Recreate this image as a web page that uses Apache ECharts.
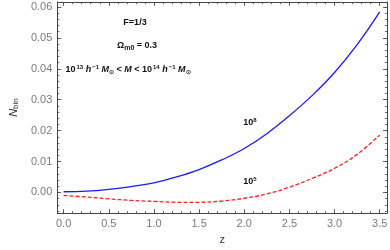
<!DOCTYPE html>
<html>
<head>
<meta charset="utf-8">
<script src="https://cdn.jsdelivr.net/npm/echarts@6/dist/echarts.min.js"></script>
<style>html,body{margin:0;padding:0;background:#fff;}#c{width:390px;height:250px;}</style>
</head>
<body>
<div id="c"></div>
<script>
const zValues = [0, 0.25, 0.5, 0.75, 1.0, 1.25, 1.5, 1.75, 2.0, 2.25, 2.5, 2.75, 3.0, 3.25, 3.5];
const blue1e8 = [0.0002, 0.0004, 0.0010, 0.0019, 0.0031, 0.0050, 0.0074, 0.0105, 0.0142, 0.0190, 0.0248, 0.0313, 0.0388, 0.0478, 0.0584];
const red1e5 = [-0.0010, -0.0015, -0.0021, -0.0026, -0.0029, -0.0032, -0.0032, -0.0028, -0.0019, -0.0005, 0.0017, 0.0045, 0.0078, 0.0123, 0.0186];
const xTicks = [0, 0.5, 1.0, 1.5, 2.0, 2.5, 3.0, 3.5];
const yTicks = [0, 0.01, 0.02, 0.03, 0.04, 0.05, 0.06];

const xMinor = []; for (let i = 0; i <= 35; i++) xMinor.push(+(i * 0.1).toFixed(2));
const yMinor = []; for (let i = -3; i <= 30; i++) yMinor.push(+(i * 0.002).toFixed(4));

const XMIN = -0.07, XMAX = 3.58, YMIN = -0.0067, YMAX = 0.0616;
const frame = '#444';
const labelColor = '#7a7a7a';
const font = 'Liberation Sans';

function xAx(pos, custom, len, showLabel, showLine) {
  return {
    type: 'value', position: pos, min: XMIN, max: XMAX,
    axisLine: { show: showLine, onZero: false, lineStyle: { color: frame, width: 1 } },
    axisTick: { show: true, inside: true, length: len, customValues: custom, lineStyle: { color: frame, width: 0.8 } },
    axisLabel: { show: showLabel, customValues: custom, color: labelColor, fontSize: 11, fontFamily: font, margin: 5,
      formatter: v => v.toFixed(1) },
    splitLine: { show: false }
  };
}
function yAx(pos, custom, len, showLabel, showLine) {
  return {
    type: 'value', position: pos, min: YMIN, max: YMAX,
    axisLine: { show: showLine, onZero: false, lineStyle: { color: frame, width: 1 } },
    axisTick: { show: true, inside: true, length: len, customValues: custom, lineStyle: { color: frame, width: 0.8 } },
    axisLabel: { show: showLabel, customValues: custom, color: labelColor, fontSize: 11, fontFamily: font, margin: 5,
      formatter: v => v.toFixed(2) },
    splitLine: { show: false }
  };
}

const xAxes = [
  Object.assign(xAx('bottom', xTicks, 4, true, true), {
    name: 'z', nameLocation: 'middle', nameGap: 20,
    nameTextStyle: { color: '#333', fontSize: 11, fontFamily: font }
  }),
  xAx('bottom', xMinor, 2, false, false),
  xAx('top', xTicks, 4, false, true),
  xAx('top', xMinor, 2, false, false)
];
const yAxes = [
  Object.assign(yAx('left', yTicks, 4, true, true), {
    name: '{n|N}{s|bin}', nameLocation: 'middle', nameGap: 30, nameRotate: 90,
    nameTextStyle: { rich: {
      n: { fontSize: 11, fontStyle: 'italic', color: '#333', fontFamily: font },
      s: { fontSize: 8, color: '#333', fontFamily: font, padding: [5, 0, 0, 0] }
    } }
  }),
  yAx('left', yMinor, 2, false, false),
  yAx('right', yTicks, 4, false, true),
  yAx('right', yMinor, 2, false, false)
];

const chart = echarts.init(document.getElementById('c'), null, { renderer: 'canvas' });
const txt = { fontFamily: font, fontWeight: 'bold', fill: '#111' };
chart.setOption({
  animation: false,
  grid: { left: 40.5, right: 2, top: 2, bottom: 33, show: false },
  xAxis: xAxes,
  yAxis: yAxes,
  series: [
    { type: 'line', xAxisIndex: 0, yAxisIndex: 0, data: zValues.map((z, i) => [z, blue1e8[i]]),
      smooth: 0.4, showSymbol: false, lineStyle: { color: '#1a1aff', width: 1.3 } },
    { type: 'line', xAxisIndex: 0, yAxisIndex: 0, data: zValues.map((z, i) => [z, red1e5[i]]),
      smooth: 0.4, showSymbol: false, lineStyle: { color: '#ff2020', width: 1.3, type: [4, 2] } }
  ],
  graphic: [
    { type: 'text', x: 135, y: 23, style: Object.assign({ text: 'F=1/3', fontSize: 9, align: 'center', verticalAlign: 'middle' }, txt) },
    { type: 'text', x: 137, y: 46, style: Object.assign({
        text: '{a|Ω}{s|m0}{a| = 0.3}', align: 'center', verticalAlign: 'middle',
        rich: { a: Object.assign({ fontSize: 9 }, txt), s: Object.assign({ fontSize: 7, padding: [4, 0, 0, 0] }, txt) } }, txt) },
    { type: 'text', x: 128, y: 70, style: Object.assign({
        text: '{a|10}{p|13}{a| }{i|h}{p|−1}{a| }{i|M}{s|⊙}{a| < }{i|M}{a| < 10}{p|14}{a| }{i|h}{p|−1}{a| }{i|M}{s|⊙}',
        align: 'center', verticalAlign: 'middle',
        rich: {
          a: Object.assign({ fontSize: 9 }, txt),
          i: Object.assign({ fontSize: 9, fontStyle: 'italic' }, txt),
          p: Object.assign({ fontSize: 6, padding: [0, 0, 6, 1] }, txt),
          s: Object.assign({ fontSize: 6, padding: [4, 0, 0, 0] }, txt)
        } }, txt) },
    { type: 'text', x: 250, y: 123, style: Object.assign({
        text: '{a|10}{p|8}', align: 'center', verticalAlign: 'middle',
        rich: { a: Object.assign({ fontSize: 9 }, txt), p: Object.assign({ fontSize: 6, padding: [0, 0, 6, 0] }, txt) } }, txt) },
    { type: 'text', x: 250, y: 182, style: Object.assign({
        text: '{a|10}{p|5}', align: 'center', verticalAlign: 'middle',
        rich: { a: Object.assign({ fontSize: 9 }, txt), p: Object.assign({ fontSize: 6, padding: [0, 0, 6, 0] }, txt) } }, txt) }
  ]
});
</script>
</body>
</html>
